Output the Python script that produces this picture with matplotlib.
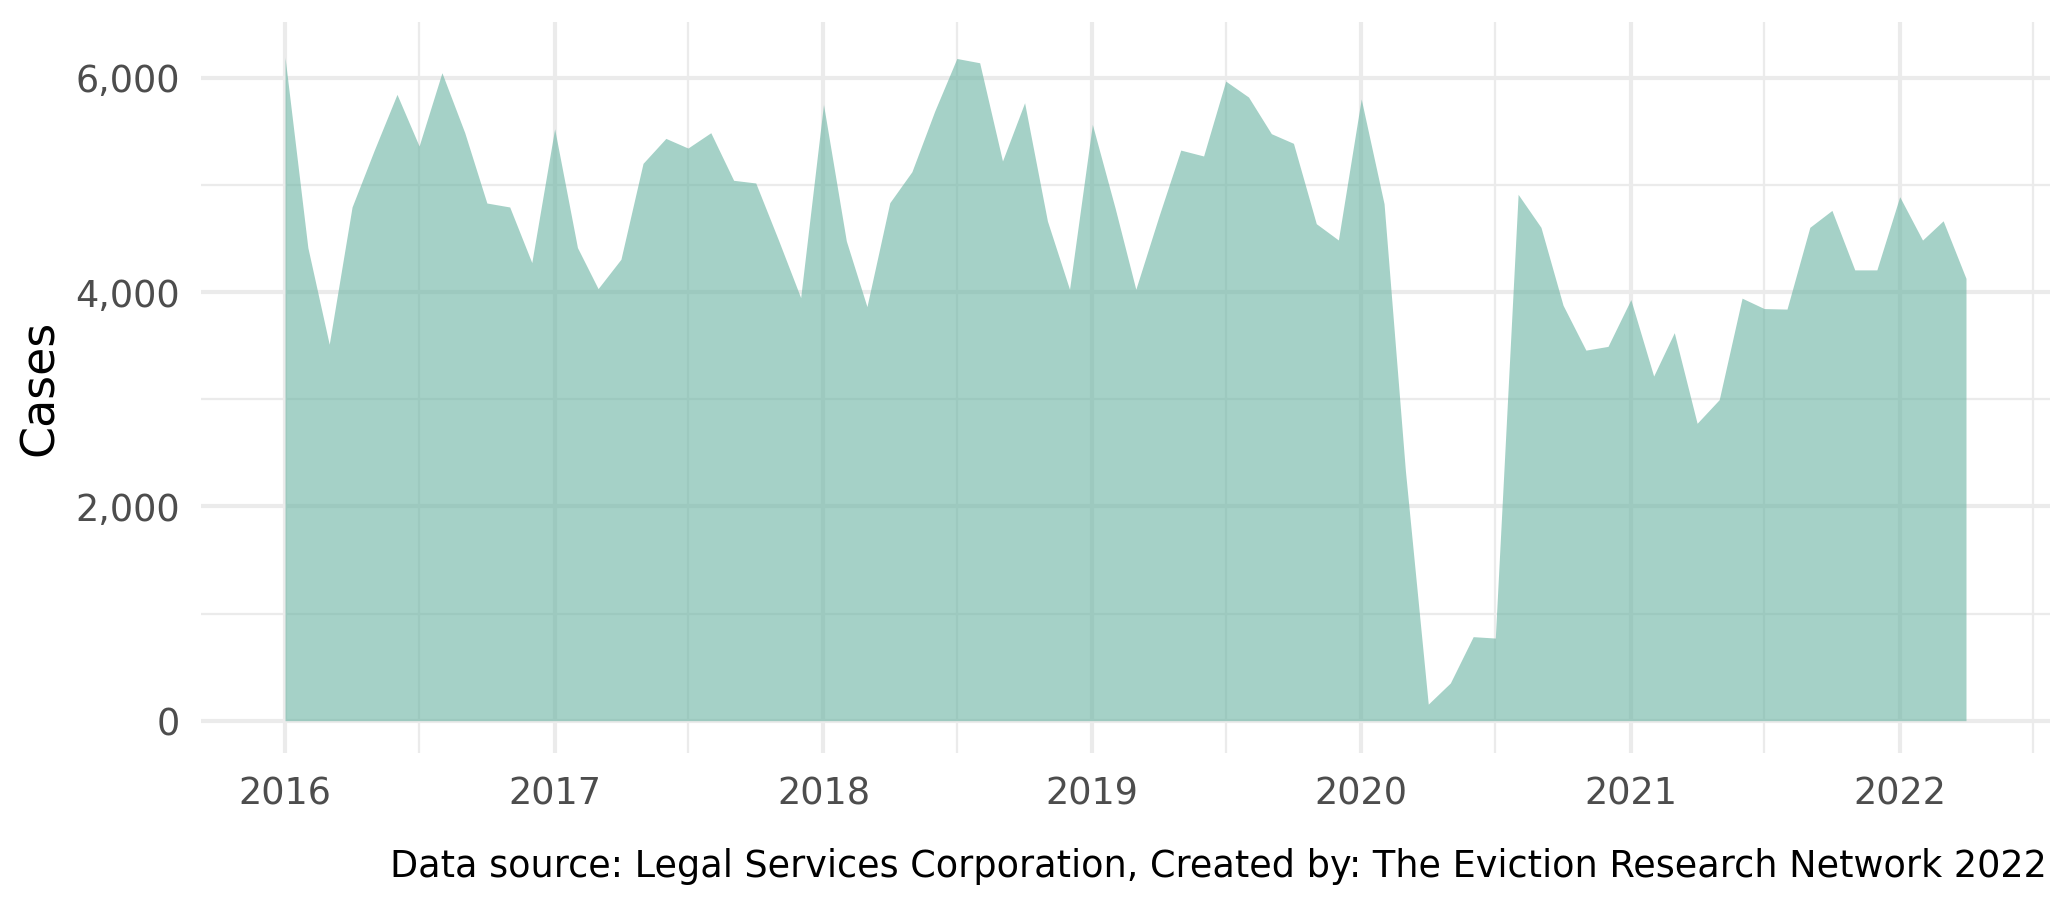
import numpy as np
import pandas as pd
import matplotlib
matplotlib.use("Agg")
import matplotlib.pyplot as plt
import matplotlib.dates as mdates
from matplotlib.ticker import FuncFormatter, MultipleLocator

# Monthly eviction cases, Jan 2016 - Apr 2022
months = pd.date_range("2016-01-01", "2022-04-01", freq="MS")
cases = [
    # 2016
    6190, 4415, 3513, 4794, 5322, 5845, 5363, 6047, 5487, 4831, 4794, 4275,
    # 2017
    5524, 4415, 4032, 4306, 5201, 5434, 5344, 5487, 5043, 5018, 4483, 3948,
    # 2018
    5751, 4477, 3864, 4834, 5123, 5689, 6180, 6140, 5223, 5767, 4663, 4026,
    # 2019
    5565, 4781, 4026, 4700, 5325, 5270, 5969, 5820, 5478, 5388, 4638, 4486,
    # 2020
    5802, 4824, 2330, 154, 352, 784, 771, 4912, 4604, 3877, 3458, 3493,
    # 2021
    3930, 3216, 3621, 2775, 2996, 3943, 3846, 3841, 4604, 4762, 4207, 4207,
    # 2022
    4890, 4485, 4665, 4128,
]
caption = "Data source: Legal Services Corporation, Created by: The Eviction Research Network 2022"

plt.rcParams["font.family"] = ["DejaVu Sans"]

fig = plt.figure(figsize=(2072 / 300, 907 / 300), dpi=300)
ax = fig.add_axes([0.097, 0.170, 0.8924, 0.8057])

grid_col = "#EBEBEB"
ax.fill_between(months, cases, 0, color="#69b3a2", alpha=0.6, linewidth=0, zorder=3)

ax.xaxis.set_major_locator(mdates.YearLocator())
ax.xaxis.set_minor_locator(mdates.MonthLocator(bymonth=7))
ax.xaxis.set_major_formatter(mdates.DateFormatter("%Y"))
ax.yaxis.set_major_locator(MultipleLocator(2000))
ax.yaxis.set_minor_locator(MultipleLocator(1000))
ax.yaxis.set_major_formatter(FuncFormatter(lambda v, p: f"{int(v):,}"))

ax.margins(x=0.05)
ax.set_ylim(-300, 6520)

ax.grid(which="major", color=grid_col, linewidth=1.0, zorder=0)
ax.grid(which="minor", color=grid_col, linewidth=0.55, zorder=0)
ax.set_axisbelow(True)
for s in ax.spines.values():
    s.set_visible(False)
ax.tick_params(which="both", length=0)
ax.tick_params(axis="both", labelsize=8.8, labelcolor="#4D4D4D")
ax.tick_params(axis="x", pad=5.5)
ax.tick_params(axis="y", pad=5)

ax.set_ylabel("Cases", fontsize=11, color="black", labelpad=3)

fig.text(0.988, 0.045, caption, ha="right", va="center", fontsize=8.8, color="black")

fig.savefig("out.png", dpi=300)
